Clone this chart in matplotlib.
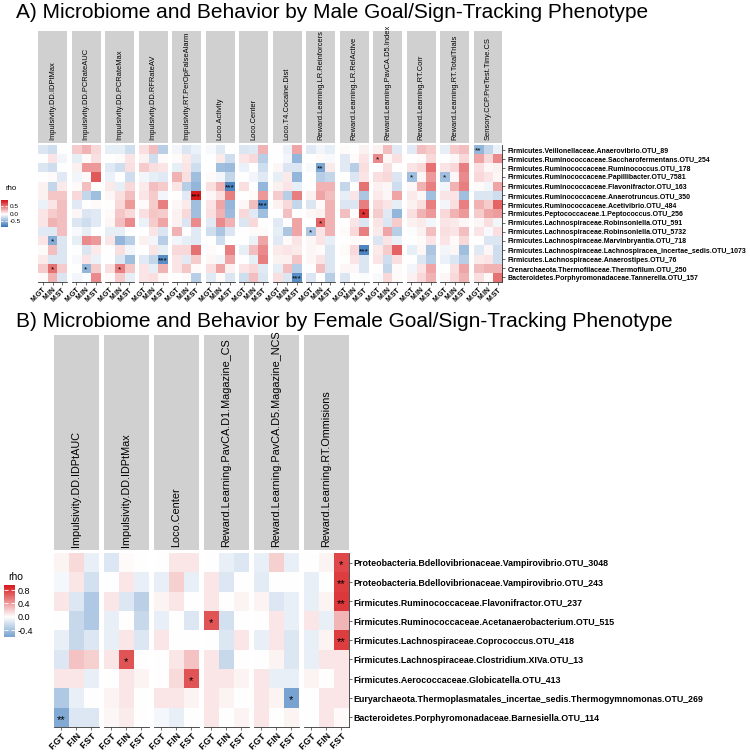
import numpy as np
import matplotlib
matplotlib.use("Agg")
import matplotlib.pyplot as plt
from matplotlib.colors import LinearSegmentedColormap, Normalize

plt.rcParams['font.family'] = ['Liberation Sans', 'DejaVu Sans']

W, H = 750, 756

# ---------------- data: panel A (males) ----------------
male_groups = ['M.GT', 'M.IN', 'M.ST']
male_behaviors = ['Impulsivity.DD.IDPtMax', 'Impulsivity.DD.PCRateAUC', 'Impulsivity.DD.PCRateMax',
                  'Impulsivity.DD.RFRateAV', 'Impulsivity.RT.PerOpFalseAlarm', 'Loco.Activity',
                  'Loco.Center', 'Loco.T4.Cocaine.Dist', 'Reward.Learning.LR.Reinforcers',
                  'Reward.Learning.LR.RelActive', 'Reward.Learning.PavCA.D5.Index',
                  'Reward.Learning.RT.Corr', 'Reward.Learning.RT.TotalTrials',
                  'Sensory.CCP.PreTest.Time.CS']
male_taxa = ['Firmicutes.Veillonellaceae.Anaerovibrio.OTU_89',
             'Firmicutes.Ruminococcaceae.Saccharofermentans.OTU_254',
             'Firmicutes.Ruminococcaceae.Ruminococcus.OTU_178',
             'Firmicutes.Ruminococcaceae.Papillibacter.OTU_7581',
             'Firmicutes.Ruminococcaceae.Flavonifractor.OTU_163',
             'Firmicutes.Ruminococcaceae.Anaerotruncus.OTU_350',
             'Firmicutes.Ruminococcaceae.Acetivibrio.OTU_484',
             'Firmicutes.Peptococcaceae.1.Peptococcus.OTU_256',
             'Firmicutes.Lachnospiraceae.Robinsoniella.OTU_591',
             'Firmicutes.Lachnospiraceae.Robinsoniella.OTU_5732',
             'Firmicutes.Lachnospiraceae.Marvinbryantia.OTU_718',
             'Firmicutes.Lachnospiraceae.Lachnospiracea_incertae_sedis.OTU_1073',
             'Firmicutes.Lachnospiraceae.Anaerostipes.OTU_76',
             'Crenarchaeota.Thermofilaceae.Thermofilum.OTU_250',
             'Bacteroidetes.Porphyromonadaceae.Tannerella.OTU_157']

# rho per behaviour: rows follow male_taxa, columns follow male_groups
rho_idptmax = [[-0.15, -0.2, 0], [0, 0.1, -0.05], [-0.15, -0.2, 0], [0, 0.02, -0.12],
               [0.05, -0.25, 0.08], [0.05, 0.22, 0.22], [-0.08, 0.1, 0.25], [0.1, 0.2, 0.25],
               [0.1, 0.3, 0.25], [-0.12, -0.12, 0.25], [0.1, -0.5, -0.15], [0.02, 0.25, -0.15],
               [0.08, -0.15, -0.15], [0.2, 0.55, 0.2], [0.02, 0.3, -0.15]]
rho_pcrateauc = [[0.2, 0.3, 0.15], [-0.1, 0.02, 0.12], [0.05, 0.4, 0.4], [-0.05, 0.02, 0.65],
                 [0.02, 0.25, 0.0], [0.15, -0.25, -0.4], [-0.12, 0.0, 0.02], [0.03, -0.15, -0.12],
                 [-0.15, -0.2, -0.12], [-0.03, -0.1, 0.0], [-0.1, 0.45, 0.4], [0.0, -0.15, 0.08],
                 [-0.03, 0.1, -0.08], [0.0, -0.45, 0.2], [-0.05, -0.02, 0.45]]
rho_pcratemax = [[-0.1, -0.1, -0.2], [0.0, 0.02, 0.1], [-0.12, -0.2, 0.12], [-0.08, 0.0, -0.2],
                 [0.08, -0.1, 0.15], [0.03, 0.12, 0.25], [0.0, 0.15, 0.4], [0.02, 0.22, 0.15],
                 [0.03, 0.25, 0.45], [-0.1, -0.1, 0.0], [0.1, -0.45, -0.3], [0.0, 0.12, -0.05],
                 [0.0, -0.15, -0.4], [0.12, 0.5, 0.22], [0.02, 0.2, -0.1]]
rho_rfrateav = [[0.12, 0.25, -0.3], [0.05, -0.2, 0.02], [0.2, 0.12, 0.1], [-0.05, -0.1, -0.12],
                [0.08, 0.25, 0.2], [0.1, 0.2, -0.05], [0.02, 0.2, 0.5], [0.12, 0.22, 0.2],
                [-0.08, 0.2, 0.35], [0.0, 0.1, -0.15], [0.05, -0.05, -0.3], [0.0, 0.1, -0.1],
                [-0.12, -0.25, -0.7], [0.1, -0.1, 0.3], [0.1, 0.12, 0.03]]
rho_peropfa = [[-0.05, -0.15, -0.08], [0.02, 0.08, -0.12], [-0.1, 0.1, -0.2], [0.3, 0.12, -0.4],
               [0.1, -0.3, -0.45], [0.0, -0.12, 0.9], [0.03, 0.08, -0.4], [0.05, 0.15, -0.4],
               [0.05, -0.15, 0.45], [0.3, 0.0, -0.12], [-0.05, -0.1, -0.12], [0.15, 0.15, 0.55],
               [0.1, -0.12, 0.2], [0.1, 0.22, 0.02], [0.0, 0.02, -0.3]]
rho_activity = [[-0.03, -0.12, 0.0], [0.0, 0.08, -0.2], [0.0, -0.4, -0.42], [0.02, -0.05, -0.25],
                [0.12, 0.3, -0.75], [0.03, 0.12, 0.5], [0.1, 0.35, -0.45], [0.12, 0.3, -0.42],
                [-0.12, 0.45, 0.3], [-0.2, -0.35, -0.15], [0.0, -0.2, 0.0], [0.02, 0.0, 0.5],
                [0.03, -0.05, 0.35], [0.12, 0.35, 0.05], [-0.12, 0.02, -0.15]]
rho_center_m = [[-0.15, -0.12, 0.3], [0.1, 0.15, -0.3], [-0.08, 0.0, -0.2], [0.0, -0.05, -0.12],
                [0.12, 0.0, -0.45], [0.0, 0.02, 0.4], [0.03, 0.25, -0.75], [0.15, -0.12, -0.4],
                [-0.15, 0.15, 0.0], [0.0, 0.02, 0.02], [0.0, -0.08, 0.35], [-0.1, 0.25, 0.45],
                [0.0, -0.1, 0.5], [0.1, 0.15, -0.12], [-0.2, 0.25, -0.15]]
rho_cocaine = [[0.0, -0.08, 0.35], [0.0, -0.05, -0.45], [0.03, -0.15, -0.15], [-0.1, 0.08, -0.45],
               [0.05, 0.1, -0.1], [0.2, -0.3, 0.5], [0.05, 0.15, -0.25], [0.0, 0.25, 0.0],
               [-0.12, 0.0, 0.35], [-0.1, -0.35, 0.35], [-0.12, 0.02, 0.1], [0.08, 0.1, 0.08],
               [0.05, 0.05, 0.22], [-0.1, 0.25, -0.3], [0.12, -0.15, -0.7]]
rho_reinf = [[-0.12, -0.05, -0.1], [0.0, 0.02, -0.03], [-0.03, -0.55, 0.08], [0.0, -0.3, -0.25],
             [0.0, 0.3, 0.3], [0.05, 0.35, 0.25], [-0.15, 0.02, 0.3], [0.03, 0.05, 0.3],
             [0.0, 0.6, 0.3], [-0.35, 0.1, 0.3], [0.03, 0.1, -0.1], [0.03, 0.02, -0.15],
             [0.03, 0.1, -0.15], [0.0, 0.25, -0.15], [-0.15, 0.0, -0.3]]
rho_relactive = [[0.02, 0.0, 0.05], [-0.12, 0.02, 0.1], [-0.12, -0.3, 0.12], [0.0, -0.15, 0.1],
                 [-0.25, 0.0, 0.55], [-0.1, 0.1, -0.35], [-0.15, -0.15, 0.5], [0.25, 0.0, 0.8],
                 [0.0, 0.1, -0.15], [0.02, 0.15, 0.5], [0.0, 0.02, 0.02], [0.02, 0.15, -0.75],
                 [0.0, 0.1, -0.15], [0.03, 0.03, -0.15], [-0.15, 0.0, -0.02]]
rho_d5index = [[0.05, 0.25, -0.12], [0.45, 0.03, 0.12], [0.0, 0.12, 0.0], [0.12, 0.15, -0.15],
               [0.05, 0.03, -0.2], [0.08, 0.03, 0.35], [0.15, 0.1, -0.1], [0.2, -0.12, -0.45],
               [0.1, -0.15, 0.2], [0.08, 0.35, -0.3], [-0.15, 0.1, -0.08], [0.08, 0.2, 0.6],
               [0.1, -0.2, 0.12], [0.0, -0.25, 0.02], [-0.03, 0.15, 0.02]]
rho_rtcorr = [[-0.12, 0.25, 0.2], [0.0, 0.02, 0.15], [0.1, 0.15, 0.55], [-0.4, 0.03, 0.4],
              [0.03, 0.3, 0.5], [0.08, 0.03, -0.4], [0.05, 0.12, 0.5], [0.12, 0.3, 0.4],
              [0.05, 0.08, -0.05], [-0.02, 0.05, 0.25], [0.0, 0.02, 0.1], [-0.1, 0.03, -0.35],
              [0.0, -0.15, -0.3], [-0.05, 0.1, 0.35], [0.05, 0.15, 0.3]]
rho_rttrials = [[-0.1, 0.2, 0.25], [0.0, 0.03, 0.15], [0.1, 0.15, 0.5], [-0.4, 0.03, 0.45],
                [-0.05, 0.3, 0.5], [0.1, 0.1, -0.4], [-0.05, 0.12, 0.5], [0.15, 0.3, 0.4],
                [0.1, 0.08, 0.03], [0.12, 0.1, 0.25], [0.1, 0.02, 0.15], [-0.05, 0.03, -0.4],
                [-0.08, -0.15, -0.3], [0.0, 0.12, 0.35], [0.03, 0.15, 0.3]]
rho_ccp = [[-0.45, -0.25, -0.08], [0.35, 0.15, 0.45], [0.12, 0.03, 0.05], [0.15, 0.1, 0.03],
           [0.02, -0.05, 0.35], [-0.15, -0.15, -0.2], [0.3, 0.2, 0.6], [0.2, 0.35, 0.38],
           [0.03, 0.12, -0.05], [0.1, -0.03, 0.12], [0.0, -0.15, -0.15], [-0.12, 0.03, -0.2],
           [0.08, 0.1, -0.2], [0.25, 0.3, 0.3], [0.12, 0.02, 0.55]]

male_rho = [rho_idptmax, rho_pcrateauc, rho_pcratemax, rho_rfrateav, rho_peropfa,
            rho_activity, rho_center_m, rho_cocaine, rho_reinf, rho_relactive,
            rho_d5index, rho_rtcorr, rho_rttrials, rho_ccp]

# (behaviour index, taxon index, group index, label)
male_stars = [(0, 10, 1, '*'), (0, 13, 1, '*'), (1, 13, 1, '*'), (2, 13, 1, '*'),
              (3, 12, 2, '***'), (4, 5, 2, '***'), (5, 4, 2, '***'), (6, 6, 2, '***'),
              (7, 14, 2, '***'), (8, 2, 1, '**'), (8, 8, 1, '*'), (8, 9, 0, '*'),
              (9, 7, 2, '*'), (9, 11, 2, '***'), (10, 1, 0, '*'), (11, 3, 0, '*'),
              (12, 3, 0, '*'), (13, 0, 0, '**')]

# ---------------- data: panel B (females) ----------------
female_groups = ['F.GT', 'F.IN', 'F.ST']
female_behaviors = ['Impulsivity.DD.IDPtAUC', 'Impulsivity.DD.IDPtMax', 'Loco.Center',
                    'Reward.Learning.PavCA.D1.Magazine_CS', 'Reward.Learning.PavCA.D5.Magazine_NCS',
                    'Reward.Learning.RT.Ommisions']
female_taxa = ['Proteobacteria.Bdellovibrionaceae.Vampirovibrio.OTU_3048',
               'Proteobacteria.Bdellovibrionaceae.Vampirovibrio.OTU_243',
               'Firmicutes.Ruminococcaceae.Flavonifractor.OTU_237',
               'Firmicutes.Ruminococcaceae.Acetanaerobacterium.OTU_515',
               'Firmicutes.Lachnospiraceae.Coprococcus.OTU_418',
               'Firmicutes.Lachnospiraceae.Clostridium.XIVa.OTU_13',
               'Firmicutes.Aerococcaceae.Globicatella.OTU_413',
               'Euryarchaeota.Thermoplasmatales_incertae_sedis.Thermogymnomonas.OTU_269',
               'Bacteroidetes.Porphyromonadaceae.Barnesiella.OTU_114']

rho_f_idptauc = [[0.05, 0.15, -0.1], [-0.05, 0.1, -0.2], [0.1, -0.15, -0.35], [0.0, -0.25, -0.35],
                 [-0.1, -0.25, -0.15], [-0.15, 0.25, 0.2], [0.1, 0.1, -0.1], [-0.35, -0.1, 0.0],
                 [-0.55, -0.15, -0.15]]
rho_f_idptmax = [[-0.15, 0.02, 0.0], [0.0, 0.1, -0.1], [0.1, -0.15, -0.3], [-0.1, 0.0, -0.25],
                 [-0.1, 0.1, -0.15], [0.1, 0.7, 0.0], [0.0, 0.1, 0.05], [0.05, 0.1, 0.0],
                 [0.03, 0.08, 0.0]]
rho_f_center = [[0.0, 0.1, 0.1], [-0.1, 0.2, -0.1], [0.05, 0.1, 0.0], [-0.1, 0.0, -0.15],
                [0.1, 0.0, 0.0], [0.0, 0.1, 0.25], [0.0, 0.15, 0.7], [0.1, 0.1, 0.05],
                [-0.05, -0.1, 0.0]]
rho_f_d1cs = [[0.0, -0.1, -0.15], [0.1, -0.15, 0.0], [0.1, 0.0, 0.05], [0.7, -0.2, 0.0],
              [0.0, -0.15, 0.1], [0.1, -0.25, 0.0], [0.1, 0.1, 0.05], [0.1, 0.05, 0.0],
              [0.1, 0.0, 0.05]]
rho_f_d5ncs = [[-0.1, 0.2, -0.1], [-0.12, 0.0, 0.0], [0.05, -0.15, -0.1], [0.0, 0.1, -0.1],
               [-0.1, 0.1, -0.15], [0.0, 0.05, -0.15], [0.1, -0.1, -0.1], [0.1, 0.05, -0.6],
               [0.1, 0.0, 0.05]]
rho_f_omis = [[0.0, 0.05, 0.75], [-0.1, 0.0, 0.8], [-0.1, 0.05, 0.82], [0.1, -0.1, 0.3],
              [-0.1, 0.05, 0.8], [-0.1, 0.1, 0.1], [0.05, 0.0, 0.1], [0.0, 0.1, 0.1],
              [0.0, 0.1, 0.02]]

female_rho = [rho_f_idptauc, rho_f_idptmax, rho_f_center, rho_f_d1cs, rho_f_d5ncs, rho_f_omis]

female_stars = [(0, 8, 0, '**'), (1, 5, 1, '*'), (2, 6, 2, '*'), (3, 3, 0, '*'), (4, 7, 2, '*'),
                (5, 0, 2, '*'), (5, 1, 2, '**'), (5, 2, 2, '**'), (5, 4, 2, '**')]

male_ticks = [0.5, 0.0, -0.5]
female_ticks = [0.8, 0.4, 0.0, -0.4]

cmap = LinearSegmentedColormap.from_list('rho', ['#2a6db6', '#ffffff', '#d7191c'])


def px_axes(fig, x, y, w, h):
    return fig.add_axes([x / W, 1 - (y + h) / H, w / W, h / H])


def draw_panel(fig, behaviors, taxa, groups, rho, stars, lim, g):
    norm = Normalize(-lim, lim)
    n = len(behaviors)
    for i in range(n):
        x = g['x0'] + i * g['pitch']
        # facet strip
        sax = px_axes(fig, x, g['st_top'], g['fw'], g['st_bot'] - g['st_top'])
        sax.set_facecolor('#d0d0d0')
        sax.set_xticks([])
        sax.set_yticks([])
        for sp in sax.spines.values():
            sp.set_visible(False)
        sax.text(0.5, g['st_pad'], behaviors[i], rotation=90, ha='center', va='bottom',
                 fontsize=g['st_fs'], transform=sax.transAxes)

        ax = px_axes(fig, x, g['hm_top'], g['fw'], g['hm_bot'] - g['hm_top'])
        ax.imshow(np.array(rho[i]), cmap=cmap, norm=norm, aspect='auto', interpolation='nearest')
        ax.set_xticks(range(len(groups)))
        ax.set_xticklabels(groups, rotation=45, ha='right', rotation_mode='anchor',
                           fontsize=g['tk_fs'], fontweight='bold')
        for sp in ['top', 'left', 'right']:
            ax.spines[sp].set_visible(False)
        ax.spines['bottom'].set_color('#333333')
        ax.spines['bottom'].set_linewidth(0.6)
        ax.tick_params(axis='x', length=2, width=0.5, pad=1, color='#333333')
        if i == n - 1:
            ax.spines['right'].set_visible(True)
            ax.spines['right'].set_color('#333333')
            ax.spines['right'].set_linewidth(0.6)
            ax.yaxis.tick_right()
            ax.set_yticks(range(len(taxa)))
            ax.set_yticklabels(taxa, fontsize=g['lb_fs'], fontweight='bold')
            ax.tick_params(axis='y', length=2, width=0.5, pad=1.5, color='#333333')
        else:
            ax.set_yticks([])
        for b, r, c, s in stars:
            if b == i:
                ax.text(c, r + g['star_dy'], s, ha='center', va='center',
                        fontsize=g['star_fs'], color='black')


def draw_colorbar(fig, lo, hi, lim, ticks, g):
    cax = px_axes(fig, g['cx'], g['cy'], g['cw'], g['ch'])
    grad = np.linspace(hi, lo, 200)[:, None]
    cax.imshow(grad, cmap=cmap, norm=Normalize(-lim, lim), aspect='auto',
               extent=[0, 1, lo, hi])
    for sp in cax.spines.values():
        sp.set_visible(False)
    cax.set_xticks([])
    cax.set_yticks(ticks)
    cax.set_yticklabels([f'{t:.1f}' for t in ticks], fontsize=g['cb_fs'])
    cax.tick_params(axis='y', left=True, right=True, labelleft=False, labelright=True,
                    direction='in', color='white', length=g['cw'] * 0.25, width=0.6, pad=2)
    fig.text(g['rx'] / W, 1 - g['ry'] / H, 'rho', fontsize=g['rho_fs'], ha='left', va='center')


fig = plt.figure(figsize=(W / 100, H / 100), dpi=100)

fig.text(16 / W, 1 - 13 / H, 'A) Microbiome and Behavior by Male Goal/Sign-Tracking Phenotype',
         fontsize=15, ha='left', va='center')
fig.text(16 / W, 1 - 321 / H, 'B) Microbiome and Behavior by Female Goal/Sign-Tracking Phenotype',
         fontsize=15, ha='left', va='center')

geo_a = dict(x0=38, pitch=33.5, fw=29, st_top=31, st_bot=143, hm_top=145, hm_bot=282,
             st_pad=0.03, st_fs=5.4, tk_fs=5, lb_fs=5.0, star_fs=6, star_dy=0.15)
draw_panel(fig, male_behaviors, male_taxa, male_groups, male_rho, male_stars, 0.9, geo_a)
draw_colorbar(fig, -0.85, 0.95, 0.9, male_ticks,
              dict(cx=1, cy=199.7, cw=6, ch=27, cb_fs=4.6, rx=6, ry=189, rho_fs=5.6))

geo_b = dict(x0=54, pitch=50, fw=44.5, st_top=335, st_bot=550, hm_top=553, hm_bot=727,
             st_pad=0.015, st_fs=7.8, tk_fs=6.5, lb_fs=6.4, star_fs=8, star_dy=0.12)
draw_panel(fig, female_behaviors, female_taxa, female_groups, female_rho, female_stars, 0.95, geo_b)
draw_colorbar(fig, -0.6, 0.95, 0.95, female_ticks,
              dict(cx=4, cy=585, cw=11, ch=52, cb_fs=6.5, rx=8, ry=577, rho_fs=7.5))

fig.savefig('out.png', dpi=100)
